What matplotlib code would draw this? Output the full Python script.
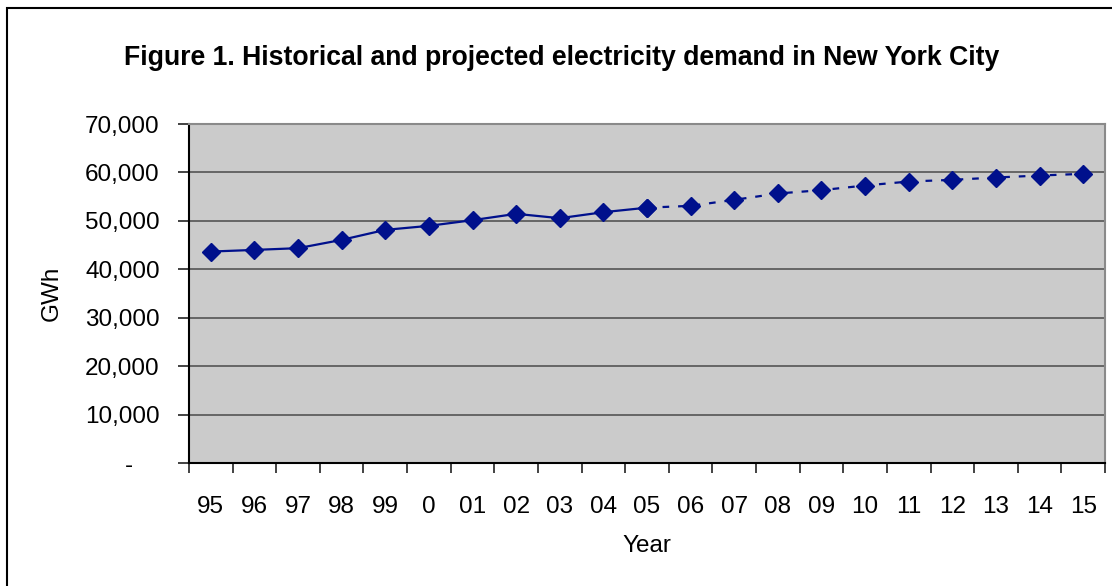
import matplotlib
matplotlib.use("Agg")
import matplotlib.pyplot as plt
from matplotlib.patches import Rectangle
from matplotlib.ticker import FuncFormatter, FixedLocator
import numpy as np

plt.rcParams['font.family'] = ['Liberation Sans', 'DejaVu Sans']

years = ["95", "96", "97", "98", "99", "0", "01", "02", "03", "04", "05",
         "06", "07", "08", "09", "10", "11", "12", "13", "14", "15"]
demand_gwh = [43660, 44000, 44360, 46070, 48140, 48970, 50140, 51450, 50550,
              51790, 52720, 53100, 54340, 55650, 56340, 57300, 58120, 58470,
              58950, 59360, 59710]
last_historical = "05"

line_color = "#00108C"
label_size = 17.5

fig = plt.figure(figsize=(11.12, 5.86), dpi=100)
fig.patch.set_facecolor("white")

# chart-area border (top and left edges visible)
fig.add_artist(Rectangle((7 / 1112, -0.05), 1.2, (586 - 8) / 586 + 0.05,
                         transform=fig.transFigure, fill=False,
                         edgecolor="black", linewidth=1.5))

ax = fig.add_axes([189 / 1112, (586 - 463) / 586, (1105 - 189) / 1112, (463 - 124) / 586])
ax.set_facecolor("#CBCBCB")

x = np.arange(len(years))
split = years.index(last_historical)
ax.plot(x[:split + 1], demand_gwh[:split + 1], color=line_color, linewidth=1.6,
        marker="D", markersize=9.3, markeredgecolor=line_color, zorder=3)
ax.plot(x[split:], demand_gwh[split:], color=line_color, linewidth=1.6,
        linestyle=(0, (3, 4)), marker="D", markersize=9.3,
        markeredgecolor=line_color, zorder=3)

ax.set_xlim(-0.5, len(years) - 0.5)
ax.set_ylim(0, 70000)


def accounting(v, pos):
    # zero shown as an accounting-style dash, set in from the right edge
    return "-    " if v == 0 else f"{int(v):,}"


ax.set_yticks(np.arange(0, 70001, 10000))
ax.yaxis.set_major_formatter(FuncFormatter(accounting))
ax.grid(axis="y", color="#555555", linewidth=1.2)
ax.set_axisbelow(True)

ax.set_xticks(x)
ax.set_xticklabels(years)
ax.xaxis.set_minor_locator(FixedLocator(np.arange(-0.5, len(years), 1.0)))
ax.tick_params(axis="x", which="major", length=0, pad=24, labelsize=label_size)
ax.tick_params(axis="x", which="minor", length=7, width=1.2, direction="out", color="#222222")
ax.tick_params(axis="y", length=8, width=1.2, direction="out", pad=13, labelsize=label_size, color="#222222")

for side in ("left", "bottom"):
    ax.spines[side].set_color("black")
    ax.spines[side].set_linewidth(1.5)
for side in ("right", "top"):
    ax.spines[side].set_color("#8A8A8A")
    ax.spines[side].set_linewidth(1.5)

ax.set_xlabel("Year", fontsize=label_size, labelpad=12)
ax.set_ylabel("GWh", fontsize=label_size, labelpad=16)

fig.text(0.505, (586 - 58) / 586, "Figure 1. Historical and projected electricity demand in New York City",
         ha="center", va="center", fontsize=19.2, fontweight="bold")

fig.savefig("out.png", dpi=100)
